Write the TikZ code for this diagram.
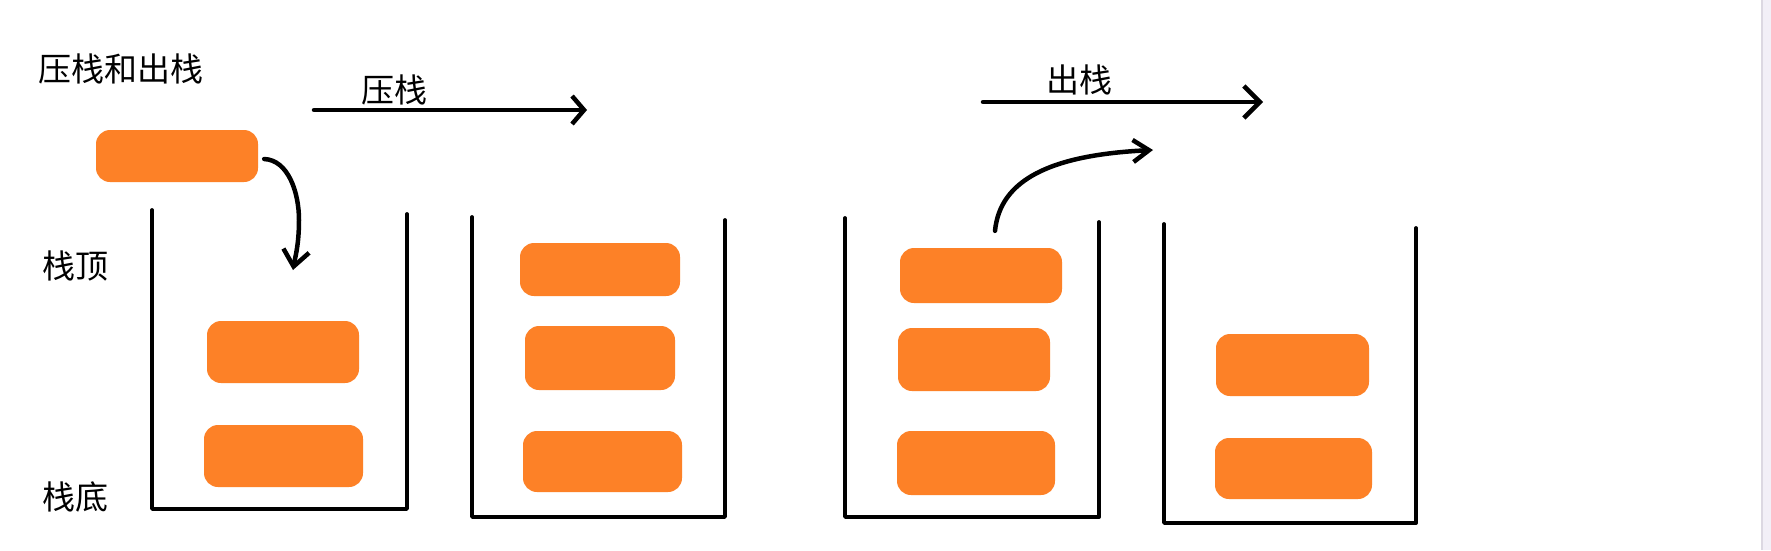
\documentclass[tikz,border=0pt]{standalone}
\usepackage{fontspec}
\newfontfamily\cjk{Noto Sans CJK SC}
\usetikzlibrary{arrows.meta}
\definecolor{blockorange}{RGB}{253,129,39}
\definecolor{stripfill}{RGB}{242,239,247}
\definecolor{stripline}{RGB}{220,216,226}
\tikzset{
  blk/.style={rectangle, rounded corners=14pt, fill=blockorange, draw=none, inner sep=0pt},
  lbl/.style={inner sep=0pt, font=\cjk\fontsize{33}{40}\selectfont},
  wall/.style={line width=3.8pt, line cap=round, line join=round},
  arr/.style={line width=4.5pt, line cap=round, line join=round},
}
\begin{document}
\begin{tikzpicture}[x=1pt,y=-1pt]
\useasboundingbox (0,0) rectangle (1771,550);
\fill[white] (0,0) rectangle (1771,550);
\fill[stripfill] (1762,0) rectangle (1771,550);
\draw[stripline, line width=1.2pt] (1762,0) -- (1762,550);

% labels
\node[lbl] (title) at (121,69) {压栈和出栈};
\node[lbl] (top) at (75,266) {栈顶};
\node[lbl] (bot) at (75,497) {栈底};
\node[lbl] (push) at (394,90) {压栈};
\node[lbl] (pop) at (1079,80) {出栈};

% horizontal arrows
\coordinate (p1s) at (314,110);
\coordinate (p1e) at (587,110);
\draw[arr, -{Straight Barb[length=12pt,width=28pt,line width=4.5pt]}] (p1s) -- (p1e);
\coordinate (p2s) at (983,102);
\coordinate (p2e) at (1263,102);
\draw[arr, -{Straight Barb[length=16pt,width=32pt,line width=4.5pt]}] (p2s) -- (p2e);

% stacks
\coordinate (s1lt) at (152,210); \coordinate (s1lb) at (152,509);
\coordinate (s1rb) at (407,509); \coordinate (s1rt) at (407,214);
\draw[wall] (s1lt) -- (s1lb) -- (s1rb) -- (s1rt);
\coordinate (s2lt) at (472,217); \coordinate (s2lb) at (472,517);
\coordinate (s2rb) at (725,517); \coordinate (s2rt) at (725,220);
\draw[wall] (s2lt) -- (s2lb) -- (s2rb) -- (s2rt);
\coordinate (s3lt) at (845,218); \coordinate (s3lb) at (845,517);
\coordinate (s3rb) at (1099,517); \coordinate (s3rt) at (1099,222);
\draw[wall] (s3lt) -- (s3lb) -- (s3rb) -- (s3rt);
\coordinate (s4lt) at (1164,224); \coordinate (s4lb) at (1164,523);
\coordinate (s4rb) at (1416,523); \coordinate (s4rt) at (1416,228);
\draw[wall] (s4lt) -- (s4lb) -- (s4rb) -- (s4rt);

% blocks
\node[blk, minimum width=162pt, minimum height=52pt] (fl) at (177,156) {};
\node[blk, minimum width=152pt, minimum height=62pt] (a1) at (283,352) {};
\node[blk, minimum width=159pt, minimum height=62pt] (a2) at (283.5,456) {};
\node[blk, minimum width=160pt, minimum height=53pt] (b1) at (600,269.5) {};
\node[blk, minimum width=150pt, minimum height=64pt] (b2) at (600,358) {};
\node[blk, minimum width=159pt, minimum height=61pt] (b3) at (602.5,461.5) {};
\node[blk, minimum width=162pt, minimum height=55pt] (c1) at (981,275.5) {};
\node[blk, minimum width=152pt, minimum height=63pt] (c2) at (974,359.5) {};
\node[blk, minimum width=158pt, minimum height=64pt] (c3) at (976,463) {};
\node[blk, minimum width=153pt, minimum height=62pt] (d1) at (1292.5,365) {};
\node[blk, minimum width=157pt, minimum height=61pt] (d2) at (1293.5,468.5) {};

% curved arrows
\coordinate (c1end) at (293,270);
\draw[arr, -{Straight Barb[length=16pt,width=26pt,line width=4.5pt]}]
  ([xshift=6pt,yshift=-3pt]fl.east) .. controls (288,160) and (299,192) .. (299,220)
  .. controls (299,245) and (295,258) .. (c1end);
\coordinate (c2end) at (1153,150);
\draw[arr, -{Straight Barb[length=16pt,width=22pt,line width=4.5pt]}]
  ([yshift=17pt,xshift=14pt]c1.north) .. controls (1000,180) and (1050,155) .. (c2end);
\end{tikzpicture}
\end{document}
